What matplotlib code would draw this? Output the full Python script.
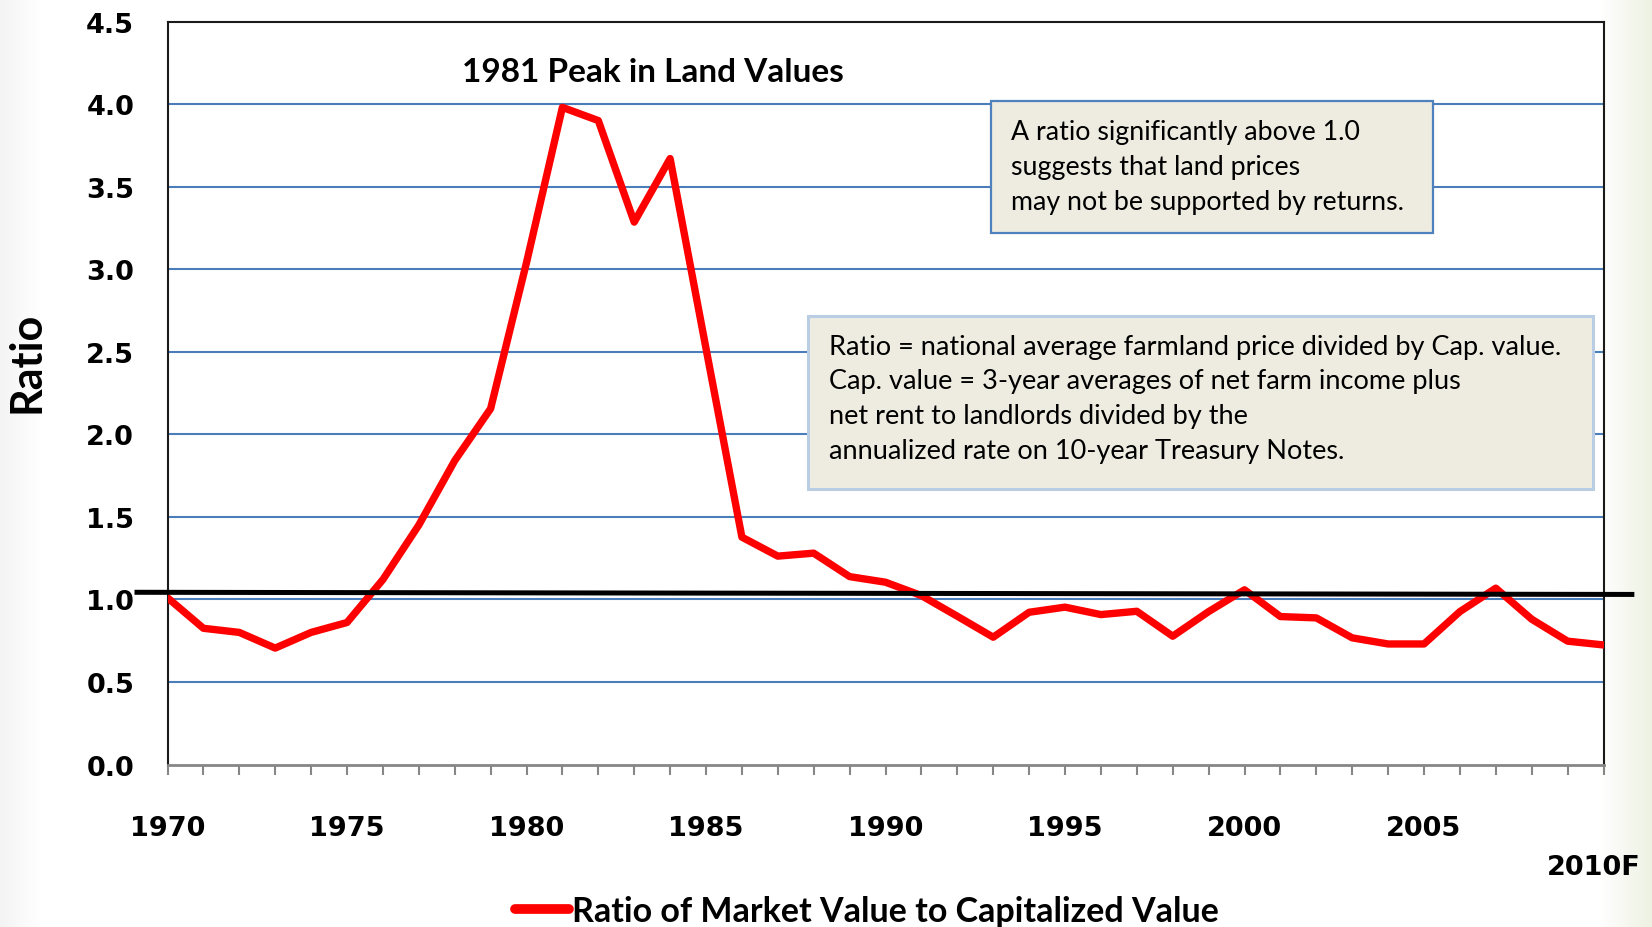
import numpy as np
import matplotlib
matplotlib.use("Agg")
import matplotlib.pyplot as plt
from matplotlib.patches import Rectangle
from matplotlib.lines import Line2D

# ratio of market value to capitalized value
years = list(range(1970, 2011))
ratio = [1.01, 0.825, 0.80, 0.705, 0.80, 0.86, 1.12, 1.45, 1.84, 2.155,
         3.04, 3.98, 3.90, 3.285, 3.67, 2.52, 1.377, 1.262, 1.28, 1.138,
         1.104, 1.023, 0.898, 0.771, 0.922, 0.953, 0.908, 0.928, 0.777, 0.926,
         1.058, 0.896, 0.888, 0.767, 0.73, 0.73, 0.926, 1.068, 0.88, 0.747,
         0.724]

# the black "1.0" reference line (drawn a bit past the axes)
ref_x = [1969.15, 2010.79]
ref_y = [1.043, 1.030]

y_ticks = [0.0, 0.5, 1.0, 1.5, 2.0, 2.5, 3.0, 3.5, 4.0, 4.5]
y_labels = ["0.0", "0.5", "1.0", "1.5", "2.0", "2.5", "3.0", "3.5", "4.0", "4.5"]
grid_vals = [0.5, 1.0, 1.5, 2.0, 2.5, 3.0, 3.5, 4.0]
x_labels = [str(y) if (y % 5 == 0 and y < 2010) else "" for y in years]

peak_title = "1981 Peak in Land Values"
box1_lines = ["A ratio significantly above 1.0",
              "suggests that land prices",
              "may not be supported by returns."]
box2_lines = ["Ratio = national average farmland price divided by Cap. value.",
              "Cap. value = 3-year averages of net farm income plus",
              "net rent to landlords divided by the",
              "annualized rate on 10-year Treasury Notes."]
legend_label = "Ratio of Market Value to Capitalized Value"

W, H = 1652, 928
fig = plt.figure(figsize=(W / 100, H / 100), dpi=100)

# slide background: faint grey on the left, greenish strip on the right
bg = fig.add_axes([0, 0, 1, 1], zorder=-5)
bg.axis("off")
xs = np.arange(W)
img = np.ones((1, W, 3))
left = np.clip(1 - xs / 40, 0, 1)[:, None]
img[0] = img[0] * (1 - left) + np.array([0.955, 0.955, 0.955]) * left
right = np.clip((xs - 1600) / 52, 0, 1)[:, None]
img[0] = img[0] * (1 - right) + np.array([0.93, 0.945, 0.885]) * right
bg.imshow(img, aspect="auto", extent=[0, 1, 0, 1])
bg.set_xlim(0, 1)
bg.set_ylim(0, 1)

ax = fig.add_axes([167.5 / W, 1 - 765.5 / H, 1436 / W, 743 / H])
ax.set_facecolor("white")
ax.set_xlim(1970, 2010)
ax.set_ylim(0, 4.5)

for g in grid_vals:
    ax.axhline(g, color="#4a7ebb", lw=1.5, zorder=1)

ax.plot(years, ratio, color="#ff0000", lw=5.3, solid_joinstyle="round",
        solid_capstyle="round", zorder=3)
ax.plot(ref_x, ref_y, color="black", lw=3.6, clip_on=False, zorder=4)

for s in ["left", "top", "right"]:
    ax.spines[s].set_color("#1a1a1a")
    ax.spines[s].set_linewidth(1.5)
ax.spines["bottom"].set_color("#868686")
ax.spines["bottom"].set_linewidth(2)

ax.set_yticks(y_ticks)
ax.set_yticklabels(y_labels, fontsize=19.5, fontweight="bold",
                   family="DejaVu Sans")
ax.tick_params(axis="y", length=0, pad=24)
ax.set_xticks(years)
ax.set_xticklabels(x_labels, fontsize=19.5, fontweight="bold",
                   family="DejaVu Sans")
ax.tick_params(axis="x", length=7.5, width=1.5, color="#868686",
               direction="out", pad=28.5)
ax.text(2009.74, -0.138, "2010F", transform=ax.get_xaxis_transform(),
        ha="center", va="center", fontsize=19.5, fontweight="bold",
        family="DejaVu Sans")

ax.set_ylabel("Ratio", fontsize=31, fontweight="bold", family="Lato",
              ha="center", va="center")
ax.yaxis.set_label_coords(-0.0985, 0.543)

ax.text(1983.52, 4.195, peak_title, ha="center", va="center",
        fontsize=24, fontweight="bold", family="Lato")

# note boxes
ax.add_patch(Rectangle((1992.95, 3.222), 12.30, 0.798, facecolor="#eeece1",
                       edgecolor="#4f81bd", lw=1.6, zorder=5))
for i, line in enumerate(box1_lines):
    ax.text(1993.5, 3.836 - i * 0.2135, line, ha="left", va="center",
            fontsize=19.3, family="Lato", zorder=6)

ax.add_patch(Rectangle((1987.84, 1.67), 21.87, 1.048, facecolor="#eeece1",
                       edgecolor="#b9cde5", lw=2.2, zorder=5))
for i, line in enumerate(box2_lines):
    ax.text(1988.42, 2.534 - i * 0.211, line, ha="left", va="center",
            fontsize=19.5, family="Lato", zorder=6)

handle = Line2D([], [], color="#ff0000", lw=7, solid_capstyle="round")
fig.legend(handles=[handle], labels=[legend_label], loc="center",
           bbox_to_anchor=(867 / W, 1 - 912 / H), frameon=False,
           handlelength=1.6, handletextpad=0.1,
           prop={"family": "Lato", "weight": "bold", "size": 24.5})

fig.savefig("out.png", dpi=100)
